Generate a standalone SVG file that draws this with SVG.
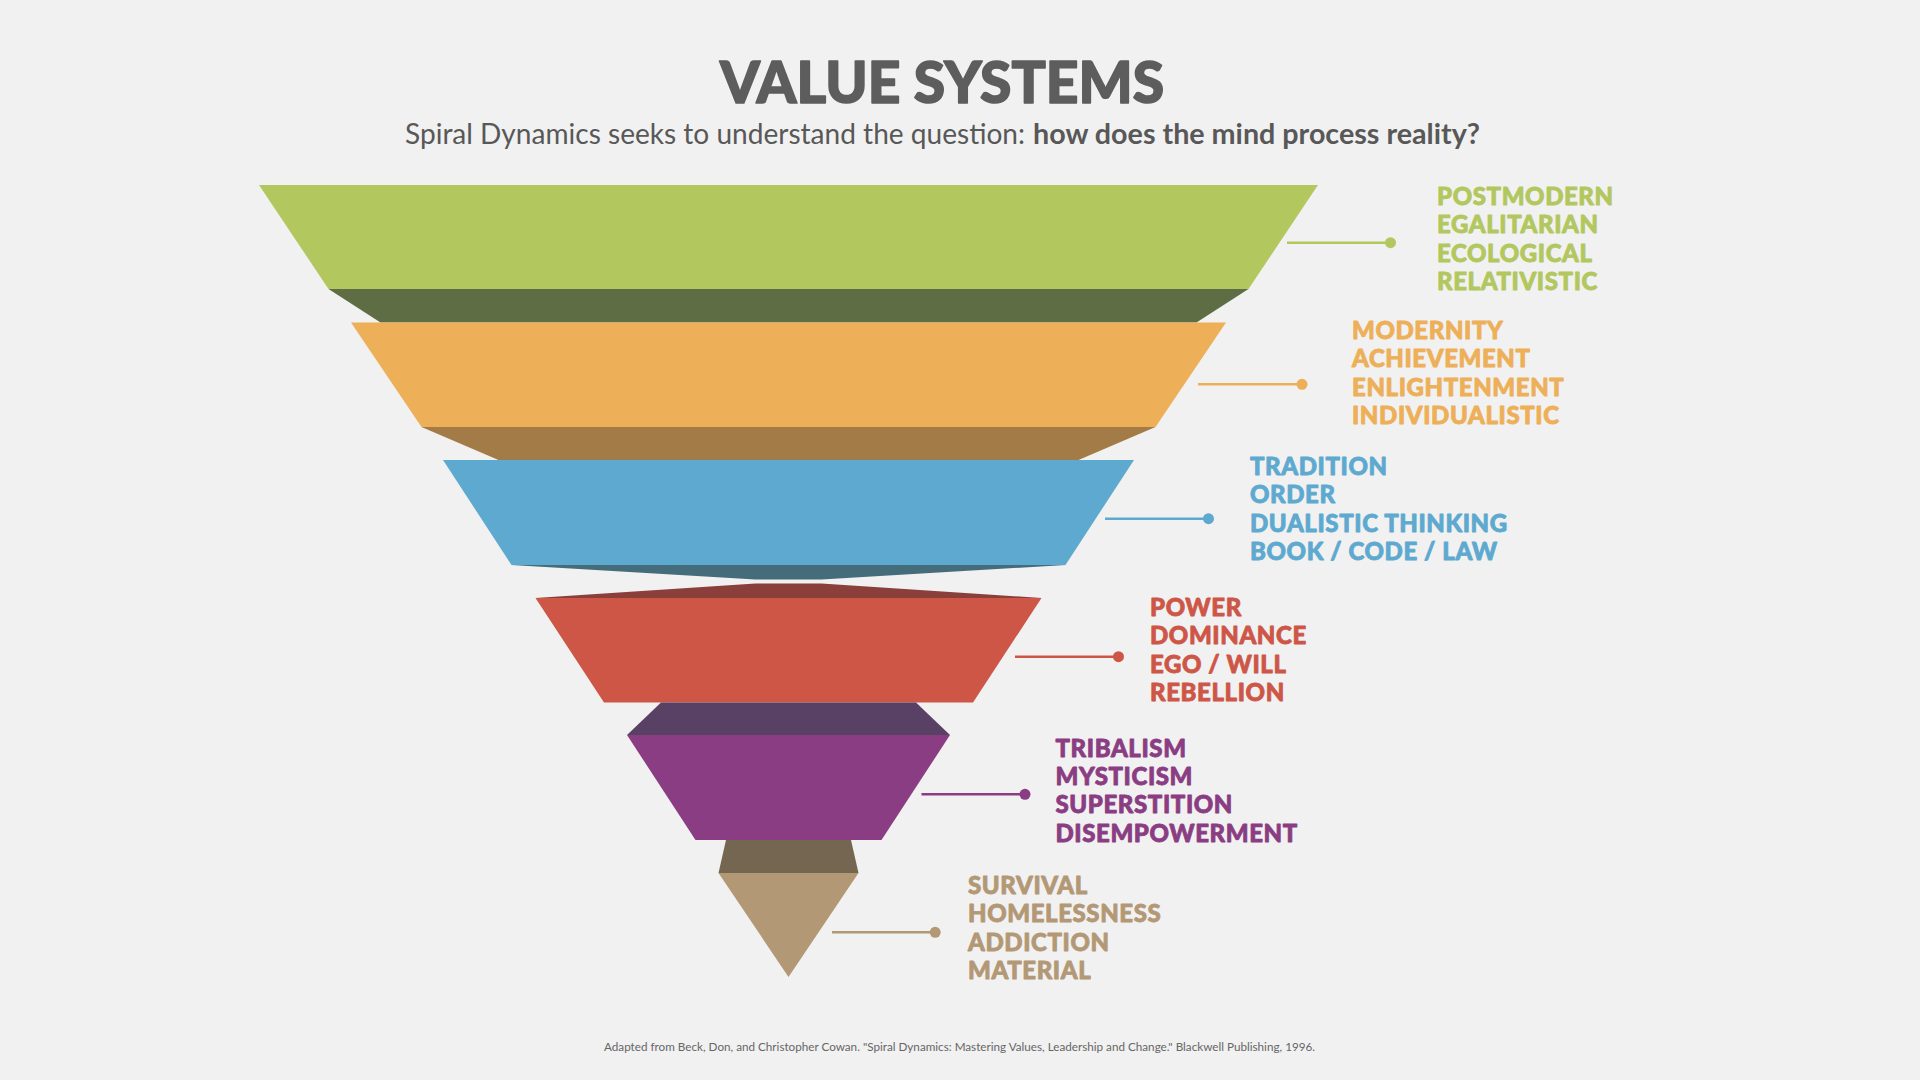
<svg xmlns="http://www.w3.org/2000/svg" width="1920" height="1080" viewBox="0 0 1920 1080">
<style>
.title{font-family:"Lato Black",Lato,"Liberation Sans",sans-serif;font-weight:900;fill:#5d5d5d;stroke:#5d5d5d;stroke-width:1.6px;stroke-linejoin:round}
.sub{font-family:Lato,"Liberation Sans",sans-serif;font-size:29px;fill:#585858}
.lbl{font-family:"Lato Black",Lato,"Liberation Sans",sans-serif;font-weight:900;font-size:24px;letter-spacing:0.6px;stroke-width:0.8px;stroke-linejoin:round}
.foot{font-family:Lato,"Liberation Sans",sans-serif;font-size:12px;fill:#666}
.con line{stroke-width:2.5}
</style>
<rect width="1920" height="1080" fill="#f1f1f1"/>
<text class="title" x="720" y="103" font-size="58" textLength="444" lengthAdjust="spacingAndGlyphs">VALUE SYSTEMS</text>
<text class="sub" x="405" y="144" textLength="620" lengthAdjust="spacingAndGlyphs">Spiral Dynamics seeks to understand the question:</text>
<text class="sub" x="1033" y="144" font-weight="700" textLength="447" lengthAdjust="spacingAndGlyphs">how does the mind process reality?</text>

<g id="level-green">
<polygon points="259,185 1318,185 1248.5,289 328.5,289" fill="#b2c75e"/>
<polygon points="328.5,289 1248.5,289 1196.5,322.5 380.5,322.5" fill="#5f6d44"/>
<g class="lbl" fill="#b2c75e" stroke="#b2c75e"><text x="1437" y="205">POSTMODERN</text><text x="1437" y="233.3">EGALITARIAN</text><text x="1437" y="261.6">ECOLOGICAL</text><text x="1437" y="289.9">RELATIVISTIC</text></g>
</g>
<g id="level-orange">
<polygon points="351,322.5 1226,322.5 1155.5,427 421.5,427" fill="#edaf57"/>
<polygon points="421.5,427 1155.5,427 1078.5,460 498.5,460" fill="#a37b47"/>
<g class="lbl" fill="#edaf57" stroke="#edaf57"><text x="1352" y="339.3">MODERNITY</text><text x="1352" y="367.4">ACHIEVEMENT</text><text x="1352" y="395.5">ENLIGHTENMENT</text><text x="1352" y="423.6">INDIVIDUALISTIC</text></g>
</g>
<g id="level-blue">
<polygon points="443,460 1134,460 1065.5,565 511.5,565" fill="#5ea9cf"/>
<polygon points="511.5,565 1065.5,565 821.5,579.5 755.5,579.5" fill="#456c7a"/>
<g class="lbl" fill="#5ea9cf" stroke="#5ea9cf"><text x="1250" y="475">TRADITION</text><text x="1250" y="503.3">ORDER</text><text x="1250" y="531.6">DUALISTIC THINKING</text><text x="1250" y="559.9">BOOK / CODE / LAW</text></g>
</g>
<g id="level-red">
<polygon points="755.5,583.5 821.5,583.5 1041.5,598 535.5,598" fill="#8a3f3b"/>
<polygon points="535.5,598 1041.5,598 973,702.5 604,702.5" fill="#cd5647"/>
<g class="lbl" fill="#cd5647" stroke="#cd5647"><text x="1150" y="616">POWER</text><text x="1150" y="644.3">DOMINANCE</text><text x="1150" y="672.6">EGO / WILL</text><text x="1150" y="700.9">REBELLION</text></g>
</g>
<g id="level-purple">
<polygon points="661,702.5 916,702.5 950,735 627,735" fill="#584164"/>
<polygon points="627,735 950,735 881.5,840 695.5,840" fill="#8a3d82"/>
<g class="lbl" fill="#8a3d82" stroke="#8a3d82"><text x="1055.5" y="756.7">TRIBALISM</text><text x="1055.5" y="785">MYSTICISM</text><text x="1055.5" y="813.3">SUPERSTITION</text><text x="1055.5" y="841.6">DISEMPOWERMENT</text></g>
</g>
<g id="level-tan">
<polygon points="726,840 851,840 858.5,873 718.5,873" fill="#756651"/>
<polygon points="718.5,873 858.5,873 788.5,977" fill="#b39876"/>
<g class="lbl" fill="#b39876" stroke="#b39876"><text x="968" y="894">SURVIVAL</text><text x="968" y="922.3">HOMELESSNESS</text><text x="968" y="950.6">ADDICTION</text><text x="968" y="978.9">MATERIAL</text></g>
</g>

<g id="connectors" class="con">
<line x1="1287" y1="242.7" x2="1390.5" y2="242.7" stroke="#b2c75e"/><circle cx="1390.5" cy="242.7" r="5.5" fill="#b2c75e"/>
<line x1="1198" y1="384.3" x2="1302" y2="384.3" stroke="#edaf57"/><circle cx="1302" cy="384.3" r="5.5" fill="#edaf57"/>
<line x1="1105" y1="518.7" x2="1208.5" y2="518.7" stroke="#5ea9cf"/><circle cx="1208.5" cy="518.7" r="5.5" fill="#5ea9cf"/>
<line x1="1015" y1="656.7" x2="1118.5" y2="656.7" stroke="#cd5647"/><circle cx="1118.5" cy="656.7" r="5.5" fill="#cd5647"/>
<line x1="921.5" y1="794.3" x2="1025" y2="794.3" stroke="#8a3d82"/><circle cx="1025" cy="794.3" r="5.5" fill="#8a3d82"/>
<line x1="832" y1="932.3" x2="935.2" y2="932.3" stroke="#b39876"/><circle cx="935.2" cy="932.3" r="5.5" fill="#b39876"/>
</g>

<text class="foot" x="604" y="1051" textLength="711" lengthAdjust="spacingAndGlyphs">Adapted from Beck, Don, and Christopher Cowan. "Spiral Dynamics: Mastering Values, Leadership and Change." Blackwell Publishing, 1996.</text>
</svg>
